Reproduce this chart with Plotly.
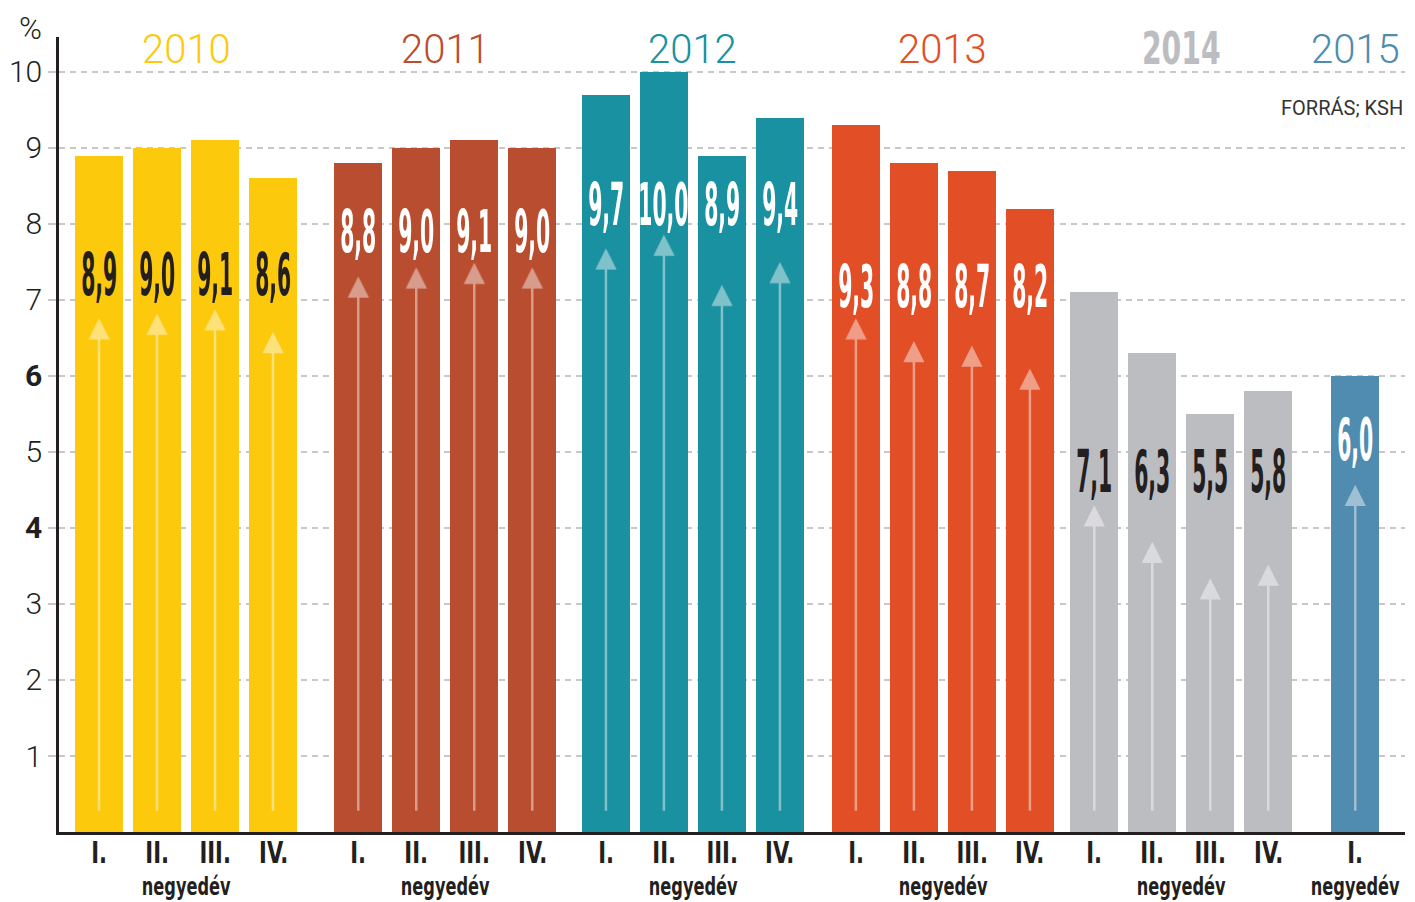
import plotly.graph_objects as go

# ---- data ----
years = ["2010", "2011", "2012", "2013", "2014", "2015"]
quarters = ["I.", "II.", "III.", "IV."]
values_2010 = [8.9, 9.0, 9.1, 8.6]
values_2011 = [8.8, 9.0, 9.1, 9.0]
values_2012 = [9.7, 10.0, 8.9, 9.4]
values_2013 = [9.3, 8.8, 8.7, 8.2]
values_2014 = [7.1, 6.3, 5.5, 5.8]
values_2015 = [6.0]
y_ticks = [1, 2, 3, 4, 5, 6, 7, 8, 9, 10]
y_ticklabels = ["1", "2", "3", "<b>4</b>", "5", "<b>6</b>", "7", "8", "9", "10"]
group_word = "negyedév"
source_text = "FORRÁS; KSH"

series = [values_2010, values_2011, values_2012, values_2013, values_2014, values_2015]

# ---- style / layout ----
bar_colors = ["#FDC90C", "#B94D2F", "#1A91A0", "#E24E25", "#BCBDC1", "#508BB0"]
label_colors = ["#231F20", "#FFFFFF", "#FFFFFF", "#FFFFFF", "#231F20", "#FFFFFF"]
label_y = [7.33, 7.89, 8.25, 7.17, 4.74, 5.16]
group_start = [0, 4.47, 8.74, 13.05, 17.16, 21.66]
arrow_base = [1.42, 2.03, 1.86, 1.18, 0.04, 0.97]
ARROW_SLOPE = 0.6
BAR_W = 0.83
COND = "DejaVu Sans Condensed"
THIN = "Roboto, Lato, sans-serif"

fig = go.Figure()
annotations = []

for g, (yr, vals) in enumerate(zip(years, series)):
    xs = [group_start[g] + q for q in range(len(vals))]
    fig.add_trace(go.Bar(x=xs, y=vals, width=BAR_W, marker_color=bar_colors[g],
                         marker_line_width=0, showlegend=False, hoverinfo="y"))
    for q, (x, v) in enumerate(zip(xs, vals)):
        # arrow
        annotations.append(dict(x=x, y=arrow_base[g] + ARROW_SLOPE * v, ax=x, ay=0.26,
                                xref="x", yref="y", axref="x", ayref="y",
                                text="", showarrow=True, arrowhead=2, arrowsize=1.7,
                                arrowwidth=2.5, arrowcolor="rgba(255,255,255,0.45)"))
        # value label
        annotations.append(dict(x=x, y=label_y[g], xref="x", yref="y",
                                xanchor="center", yanchor="middle",
                                text=f"{v:.1f}".replace(".", ","),
                                showarrow=False,
                                font=dict(family=COND, size=58, weight=700,
                                          color=label_colors[g])))
        # quarter label
        annotations.append(dict(x=x, y=-20 / 795, xref="x", yref="paper",
                                xanchor="center", yanchor="middle",
                                text=quarters[q], showarrow=False,
                                font=dict(family=COND, size=30, weight=700,
                                          color="#231F20")))
    center = sum(xs) / len(xs)
    # year title
    if yr == "2014":
        yfont = dict(family=COND, size=45, weight=700, color=bar_colors[g])
        ypos = 10.31
    else:
        yfont = dict(family=THIN, size=40, weight=300, color=bar_colors[g])
        ypos = 10.29
    annotations.append(dict(x=center, y=ypos, xref="x", yref="y", text=yr,
                            xanchor="center", yanchor="middle",
                            showarrow=False, font=yfont))
    # "negyedév"
    annotations.append(dict(x=center, y=-55 / 795, xref="x", yref="paper",
                            xanchor="center", yanchor="middle",
                            text=group_word, showarrow=False,
                            font=dict(family=COND, size=24, weight=700, color="#231F20")))

annotations.append(dict(x=1.0, xanchor="right", yanchor="middle", y=(832 - 108) / 795,
                        yref="paper", xref="paper", text=source_text, showarrow=False,
                        font=dict(family=THIN, size=20, color="#333333")))
annotations.append(dict(x=-29 / 1346, y=(832 - 28) / 795, xref="paper", yref="paper",
                        xanchor="center", yanchor="middle",
                        text="%", showarrow=False,
                        font=dict(family=THIN, size=31, weight=300, color="#231F20")))

fig.update_layout(
    width=1415, height=902,
    margin=dict(l=59, r=10, t=37, b=70),
    plot_bgcolor="white", paper_bgcolor="white",
    bargap=0,
    annotations=annotations,
    xaxis=dict(range=[-40 / 58, 1306 / 58], showticklabels=False, automargin=False,
               showgrid=False, zeroline=False, showline=True, linecolor="#231F20",
               linewidth=3, ticks=""),
    yaxis=dict(range=[0, 10.46], tickvals=y_ticks, ticktext=y_ticklabels, automargin=False,
               showgrid=True, gridcolor="#C8C8C8", gridwidth=1.5, griddash="6px,5px",
               zeroline=False, showline=True, linecolor="#231F20", linewidth=2.5,
               ticks="outside", ticklen=8, tickcolor="#C8C8C8", tickwidth=1.5,
               tickfont=dict(family=THIN, size=30, weight=300, color="#231F20")),
)

post = """
document.body.style.margin = '0';
document.body.style.overflow = 'hidden';
var SCALES = {'58px': 0.39, '45px': 0.70, '24px': 0.75, '30px': 0.78};
function squeeze() {
  document.querySelectorAll('text.annotation-text').forEach(function (t) {
    var ff = t.style.fontFamily || '';
    if (ff.indexOf('Condensed') < 0) return;
    var s = SCALES[t.style.fontSize];
    if (!s) return;
    if (!t.dataset.baseLen) { t.dataset.baseLen = t.getComputedTextLength(); }
    t.setAttribute('textLength', (parseFloat(t.dataset.baseLen) * s).toFixed(1));
    t.setAttribute('lengthAdjust', 'spacingAndGlyphs');
  });
}
squeeze();
setTimeout(squeeze, 50);
setTimeout(squeeze, 300);
var gdd = document.getElementById('{plot_id}');
if (gdd && gdd.on) { gdd.on('plotly_afterplot', squeeze); }
"""

fig.write_html("out.html", post_script=post, config={"displayModeBar": False})
